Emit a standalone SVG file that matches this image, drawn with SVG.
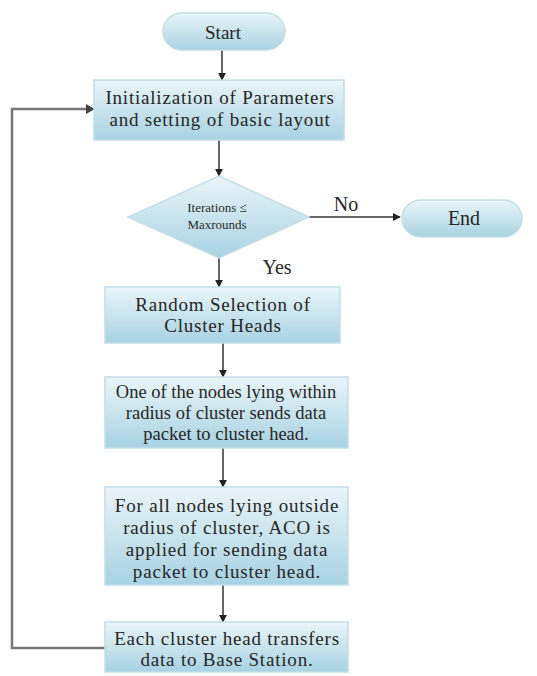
<svg xmlns="http://www.w3.org/2000/svg" width="537" height="676" viewBox="0 0 537 676">
<defs>
<linearGradient id="g" x1="0" y1="0" x2="0" y2="1">
<stop offset="0" stop-color="#eaf5f9"/>
<stop offset="1" stop-color="#a8d2e2"/>
</linearGradient>
<marker id="ah" viewBox="0 0 10 10" refX="9" refY="5" markerWidth="8" markerHeight="8" markerUnits="userSpaceOnUse" orient="auto">
<path d="M0,0 L10,5 L0,10 z" fill="#222"/>
</marker>
</defs>
<style>
.n{fill:url(#g);stroke:#c4dde6;stroke-width:1.5}
.t{font-family:"Liberation Serif","Times New Roman",serif;font-size:19px;letter-spacing:0.8px;fill:#262626;text-anchor:middle}
.w{font-size:18.5px;letter-spacing:0}
.s{font-family:"Liberation Serif","Times New Roman",serif;font-size:13px;fill:#2b2b2b;text-anchor:middle}
.c{fill:none;stroke:#333;stroke-width:1.5}
.l{fill:none;stroke:#777;stroke-width:2.5}
</style>
<rect width="537" height="676" fill="#fff"/>
<g id="connectors">
<line class="c" x1="222" y1="50" x2="222" y2="80" marker-end="url(#ah)"/>
<line class="c" x1="219" y1="140" x2="219" y2="176" marker-end="url(#ah)"/>
<line class="c" x1="309" y1="217" x2="400" y2="217" marker-end="url(#ah)"/>
<line class="c" x1="219" y1="258" x2="219" y2="287" marker-end="url(#ah)"/>
<line class="c" x1="223" y1="343" x2="223" y2="377" marker-end="url(#ah)"/>
<line class="c" x1="223" y1="448" x2="223" y2="487" marker-end="url(#ah)"/>
<line class="c" x1="223" y1="585" x2="223" y2="622" marker-end="url(#ah)"/>
<polyline class="l" points="105,648 12,648 12,109 87,109"/>
<path d="M86,104 L95,109 L86,114 z" fill="#444"/>
<text class="t" x="346" y="211" style="font-size:20px;letter-spacing:0">No</text>
<text class="t" x="277" y="274" style="font-size:20px;letter-spacing:0">Yes</text>
</g>
<g id="start">
<rect class="n" x="163" y="13" width="122" height="37" rx="18.5"/>
<text class="t" x="223" y="39" style="letter-spacing:0">Start</text>
</g>
<g id="init">
<rect class="n" x="94" y="80" width="250" height="60"/>
<text class="t" x="220" y="104">Initialization of Parameters</text>
<text class="t" x="220" y="126">and setting of basic layout</text>
</g>
<g id="decision">
<polygon class="n" points="219,176 309,217 219,258 128,217"/>
<text class="s" x="217" y="212">Iterations ≤</text>
<text class="s" x="217" y="229">Maxrounds</text>
</g>
<g id="end">
<rect class="n" x="402" y="200" width="120" height="37" rx="18.5"/>
<text class="t" x="464" y="225" style="font-size:20px;letter-spacing:0">End</text>
</g>
<g id="random">
<rect class="n" x="105" y="287" width="235" height="56"/>
<text class="t" x="223" y="311">Random Selection of</text>
<text class="t" x="223" y="332">Cluster Heads</text>
</g>
<g id="within">
<rect class="n" x="105" y="377" width="243" height="71"/>
<text class="t w" x="226" y="398">One of the nodes lying within</text>
<text class="t w" x="226" y="419">radius of cluster sends data</text>
<text class="t w" x="226" y="440">packet to cluster head.</text>
</g>
<g id="outside">
<rect class="n" x="105" y="487" width="243" height="98"/>
<text class="t" x="227" y="512">For all nodes lying outside</text>
<text class="t" x="227" y="534">radius of cluster, ACO is</text>
<text class="t" x="227" y="556">applied for sending data</text>
<text class="t" x="227" y="578">packet to cluster head.</text>
</g>
<g id="transfer">
<rect class="n" x="105" y="622" width="243" height="50"/>
<text class="t" x="227" y="645">Each cluster head transfers</text>
<text class="t" x="227" y="666">data to Base Station.</text>
</g>
</svg>
